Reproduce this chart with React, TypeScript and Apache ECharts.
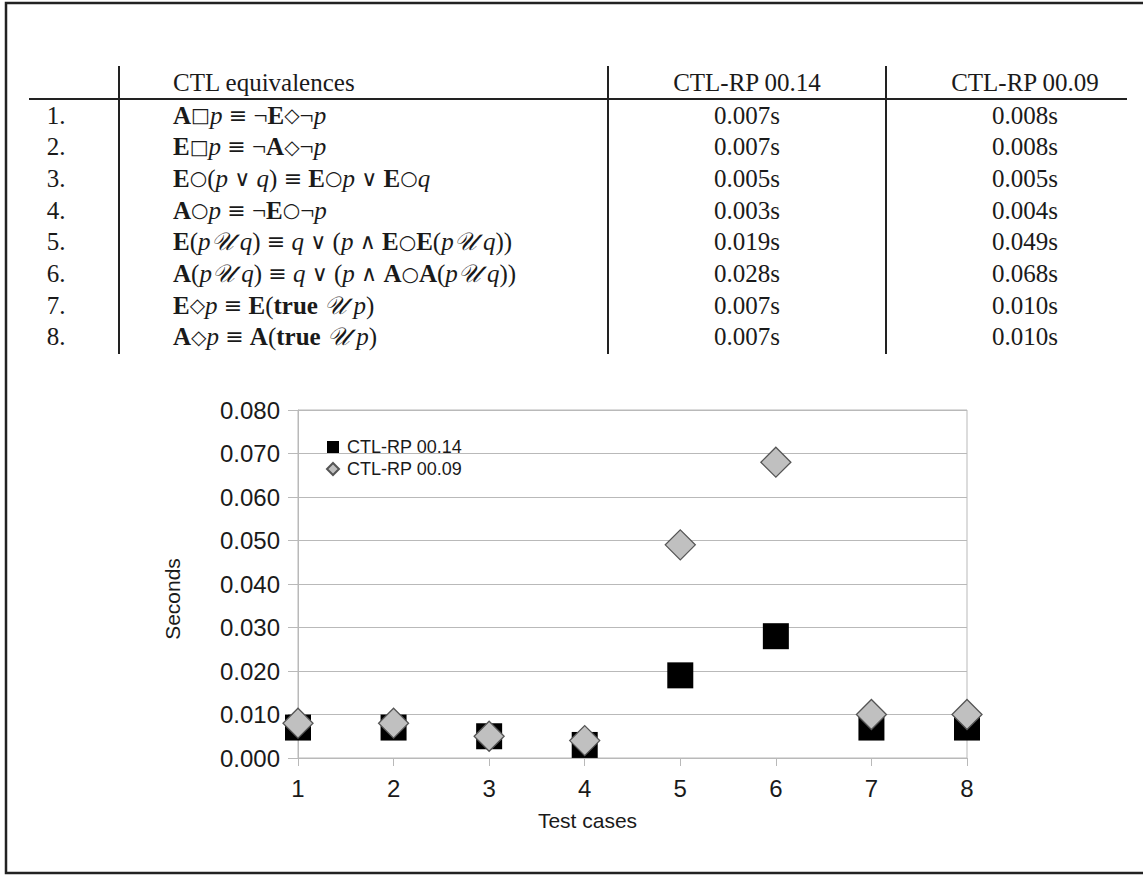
import React, { useEffect, useRef } from "react";
import * as echarts from "echarts";

// ---------- data ----------
const testCases = [1, 2, 3, 4, 5, 6, 7, 8];
const rowNumbers = ["1.", "2.", "3.", "4.", "5.", "6.", "7.", "8."];
const tableHeaders = ["CTL equivalences", "CTL-RP 00.14", "CTL-RP 00.09"];
const seriesNames = ["CTL-RP 00.14", "CTL-RP 00.09"];
const timesV014 = [0.007, 0.007, 0.005, 0.003, 0.019, 0.028, 0.007, 0.007];
const timesV009 = [0.008, 0.008, 0.005, 0.004, 0.049, 0.068, 0.01, 0.01];
const formulas = [
  "{b|A}{s|□}{i|p} {m|≡} ¬{b|E}{s|◇}¬{i|p}",
  "{b|E}{s|□}{i|p} {m|≡} ¬{b|A}{s|◇}¬{i|p}",
  "{b|E}{s|○}({i|p} {m|∨} {i|q}) {m|≡} {b|E}{s|○}{i|p} {m|∨} {b|E}{s|○}{i|q}",
  "{b|A}{s|○}{i|p} {m|≡} ¬{b|E}{s|○}¬{i|p}",
  "{b|E}({i|p}{u|𝒰} {i|q}) {m|≡} {i|q} {m|∨} ({i|p} {m|∧} {b|E}{s|○}{b|E}({i|p}{u|𝒰} {i|q}))",
  "{b|A}({i|p}{u|𝒰} {i|q}) {m|≡} {i|q} {m|∨} ({i|p} {m|∧} {b|A}{s|○}{b|A}({i|p}{u|𝒰} {i|q}))",
  "{b|E}{s|◇}{i|p} {m|≡} {b|E}({b|true} {u|𝒰} {i|p})",
  "{b|A}{s|◇}{i|p} {m|≡} {b|A}({b|true} {u|𝒰} {i|p})",
];
const yTickDecimals = 3;

// ---------- layout ----------
const W = 1143;
const H = 875;
const serif = "'Liberation Serif', 'DejaVu Serif', serif";
const sans = "'Liberation Sans', Arial, sans-serif";
const ink = "#1a1a1a";
const gridGray = "#b9b9b9";

function fmtSec(v: number) {
  return v.toFixed(3) + "s";
}

export default function App() {
  const ref = useRef<HTMLDivElement>(null);

  useEffect(() => {
    document.body.style.margin = "0";
    if (!ref.current) return;
    const chart = echarts.init(ref.current, undefined, { renderer: "svg" });

    const rowY0 = 115;
    const rowStep = 31.7;
    const headerY = 82;
    const colNum = 56;
    const colFormula = 173;
    const col1 = 747;
    const col2 = 1025;
    const fs = 25;

    const rich = {
      b: { fontFamily: serif, fontWeight: "bold", fontSize: fs, fill: ink },
      i: { fontFamily: serif, fontStyle: "italic", fontSize: fs, fill: ink },
      s: { fontFamily: "'DejaVu Sans', sans-serif", fontSize: 20, fill: ink },
      m: { fontFamily: "'DejaVu Serif', serif", fontSize: 22, fill: ink },
      u: { fontFamily: "'DejaVu Serif', 'Noto Sans', serif", fontStyle: "italic", fontSize: fs, fill: ink },
    };

    const textEl = (text: string, x: number, y: number, align: string, extra: any = {}) => ({
      type: "text",
      x,
      y,
      silent: true,
      style: {
        text,
        fill: ink,
        fontFamily: serif,
        fontSize: fs,
        align,
        verticalAlign: "middle",
        ...extra,
      },
    });

    const graphics: any[] = [];
    // frame (left, top, bottom borders)
    graphics.push({
      type: "polyline",
      silent: true,
      shape: { points: [[W + 5, 3], [6, 3], [6, 873], [W + 5, 873]] },
      style: { stroke: "#222", lineWidth: 2.5, fill: "none" },
    });
    // table rules
    graphics.push({
      type: "line",
      silent: true,
      shape: { x1: 29, y1: 99, x2: 1127, y2: 99 },
      style: { stroke: "#222", lineWidth: 2 },
    });
    [119, 608, 886].forEach((x) =>
      graphics.push({
        type: "line",
        silent: true,
        shape: { x1: x, y1: 66, x2: x, y2: 354 },
        style: { stroke: "#222", lineWidth: 2 },
      })
    );
    // headers
    graphics.push(textEl(tableHeaders[0], colFormula, headerY, "left"));
    graphics.push(textEl(tableHeaders[1], col1, headerY, "center"));
    graphics.push(textEl(tableHeaders[2], col2, headerY, "center"));
    // rows
    rowNumbers.forEach((n, k) => {
      const y = rowY0 + rowStep * k;
      graphics.push(textEl(n, colNum, y, "center"));
      graphics.push(textEl(formulas[k], colFormula, y, "left", { rich }));
      graphics.push(textEl(fmtSec(timesV014[k]), col1, y, "center"));
      graphics.push(textEl(fmtSec(timesV009[k]), col2, y, "center"));
    });

    const option: any = {
      animation: false,
      backgroundColor: "#ffffff",
      textStyle: { fontFamily: sans },
      grid: {
        left: 298,
        right: W - 967,
        top: 410,
        bottom: H - 758,
        show: true,
        borderColor: gridGray,
        borderWidth: 1,
        backgroundColor: "transparent",
      },
      legend: {
        orient: "vertical",
        left: 321,
        top: 433,
        itemWidth: 12,
        itemHeight: 12,
        itemGap: 4,
        data: seriesNames,
        textStyle: { fontFamily: sans, fontSize: 18, color: ink, padding: [0, 0, 0, 3] },
      },
      xAxis: {
        type: "value",
        min: 1,
        max: 8,
        interval: 1,
        name: "Test cases",
        nameLocation: "middle",
        nameGap: 52,
        nameTextStyle: { fontFamily: sans, fontSize: 21, color: ink, padding: [0, 90, 0, 0] },
        axisLine: { show: true, lineStyle: { color: gridGray, width: 1 } },
        axisTick: { show: true, length: 8, lineStyle: { color: gridGray } },
        axisLabel: { fontFamily: sans, fontSize: 24, color: ink, margin: 18 },
        splitLine: { show: false },
      },
      yAxis: {
        type: "value",
        min: 0,
        max: 0.08,
        interval: 0.01,
        name: "Seconds",
        nameLocation: "middle",
        nameGap: 115,
        nameRotate: 90,
        nameTextStyle: { fontFamily: sans, fontSize: 21, color: ink, padding: [0, 30, 0, 0] },
        axisLine: { show: true, lineStyle: { color: gridGray, width: 1 } },
        axisTick: { show: true, length: 10, lineStyle: { color: gridGray } },
        axisLabel: {
          fontFamily: sans,
          fontSize: 24,
          color: ink,
          margin: 18,
          formatter: (v: number) => v.toFixed(yTickDecimals),
        },
        splitLine: { show: true, lineStyle: { color: gridGray, width: 1.2 } },
      },
      series: [
        {
          name: seriesNames[0],
          type: "scatter",
          symbol: "rect",
          symbolSize: 26,
          clip: false,
          itemStyle: { color: "#000000", opacity: 1 },
          data: testCases.map((c, k) => [c, timesV014[k]]),
        },
        {
          name: seriesNames[1],
          type: "scatter",
          symbol: "diamond",
          symbolSize: [30, 30],
          clip: false,
          itemStyle: { color: "#c0c0c0", borderColor: "#555555", borderWidth: 1.3, opacity: 1 },
          data: testCases.map((c, k) => [c, timesV009[k]]),
        },
      ],
      graphic: graphics,
    };

    chart.setOption(option);
    return () => chart.dispose();
  }, []);

  return <div ref={ref} style={{ width: W, height: H }} />;
}
